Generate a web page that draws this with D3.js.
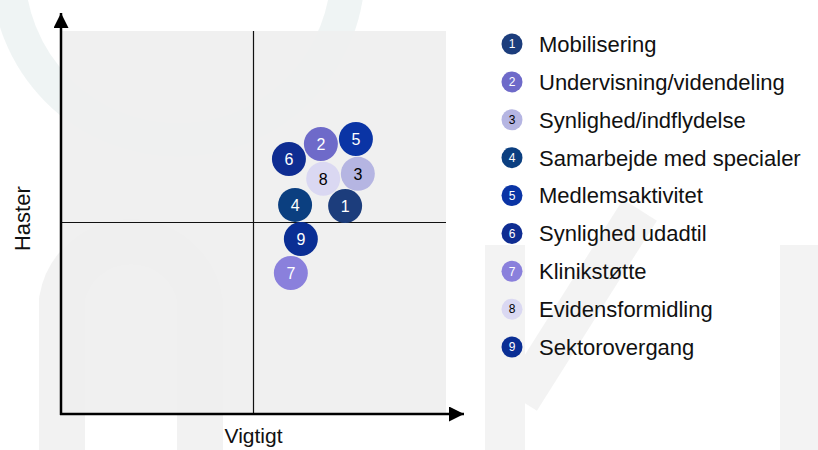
<!DOCTYPE html>
<html>
<head>
<meta charset="utf-8">
<script src="https://cdn.jsdelivr.net/npm/d3@7"></script>
<style>
  body { margin: 0; background: #fff; }
  svg { display: block; font-family: "Liberation Sans", Arial, sans-serif; }
</style>
</head>
<body>
<div id="chart"></div>
<script>
// Priorities: number, name, position on the two axes and fill colour
var ids = [1, 2, 3, 4, 5, 6, 7, 8, 9];
var names = ["Mobilisering", "Undervisning/videndeling", "Synlighed/indflydelse",
             "Samarbejde med specialer", "Medlemsaktivitet", "Synlighed udadtil",
             "Klinikstøtte", "Evidensformidling", "Sektorovergang"];
var vigtigt = [7.38, 6.75, 7.71, 6.08, 7.66, 5.92, 5.97, 6.81, 6.23];
var haster  = [5.43, 7.05, 6.27, 5.46, 7.18, 6.66, 3.68, 6.14, 4.57];
var fills = ["#1c3d7c", "#6e6ac9", "#b5b5e2", "#0b3f80", "#0a34a5",
             "#0f2d92", "#8a80dc", "#dad8f2", "#0a2e94"];
var darkText = [3, 8]; // light bubbles get black numbers

var width = 818, height = 450;
var plot = {left: 61, right: 446, top: 31, bottom: 414};

var xScale = d3.scaleLinear().domain([0, 10]).range([plot.left, plot.right]),
    yScale = d3.scaleLinear().domain([0, 10]).range([plot.bottom, plot.top]);

var svg = d3.select("#chart").append("svg")
    .attr("width", width)
    .attr("height", height);

svg.append("defs").append("marker")
    .attr("id", "arrow")
    .attr("viewBox", "0 0 10 10")
    .attr("refX", 10).attr("refY", 5)
    .attr("markerWidth", 7).attr("markerHeight", 6)
    .attr("markerUnits", "strokeWidth")
    .attr("orient", "auto")
  .append("path")
    .attr("d", "M0,0L10,5L0,10Z")
    .attr("fill", "#000");

// faint watermark behind everything
var wm = svg.append("g").attr("class", "watermark").attr("fill", "none");
wm.append("circle")
    .attr("cx", 178).attr("cy", -30).attr("r", 170)
    .attr("stroke", "#e4ecec").attr("stroke-width", 34).attr("opacity", 0.6);
wm.append("path")
    .attr("d", "M62,450V300A70,70 0 0 1 200,300V450")
    .attr("stroke", "#ededed").attr("stroke-width", 46).attr("opacity", 0.7);
wm.append("path")
    .attr("d", "M505,450V245M520,400L640,210M800,450V245")
    .attr("stroke", "#eeeeee").attr("stroke-width", 40).attr("opacity", 0.7);

// quadrant background
svg.append("rect")
    .attr("x", plot.left)
    .attr("y", plot.top)
    .attr("width", plot.right - plot.left)
    .attr("height", plot.bottom - plot.top)
    .attr("fill", "#efefef")
    .attr("opacity", 0.93);

// quadrant dividers
svg.append("line")
    .attr("x1", xScale(5)).attr("x2", xScale(5))
    .attr("y1", plot.top).attr("y2", plot.bottom)
    .attr("stroke", "#111").attr("stroke-width", 1.2);
svg.append("line")
    .attr("x1", plot.left).attr("x2", plot.right)
    .attr("y1", yScale(5)).attr("y2", yScale(5))
    .attr("stroke", "#111").attr("stroke-width", 1.2);

// axes with arrow heads
svg.append("line")
    .attr("x1", plot.left).attr("x2", plot.left)
    .attr("y1", plot.bottom + 1).attr("y2", 13)
    .attr("stroke", "#000").attr("stroke-width", 2.5)
    .attr("marker-end", "url(#arrow)");
svg.append("line")
    .attr("x1", plot.left - 1).attr("x2", 464)
    .attr("y1", plot.bottom).attr("y2", plot.bottom)
    .attr("stroke", "#000").attr("stroke-width", 2.5)
    .attr("marker-end", "url(#arrow)");

svg.append("text")
    .attr("x", xScale(5))
    .attr("y", 443)
    .attr("text-anchor", "middle")
    .attr("font-size", 21)
    .attr("fill", "#111")
    .text("Vigtigt");

svg.append("text")
    .attr("transform", "translate(30," + yScale(5.1) + ") rotate(-90)")
    .attr("text-anchor", "middle")
    .attr("font-size", 22)
    .attr("fill", "#111")
    .text("Haster");

var data = ids.map(function(id, i) {
  return {id: id, name: names[i], x: vigtigt[i], y: haster[i], fill: fills[i]};
});

// bubbles
var bubble = svg.append("g")
    .attr("class", "bubbles")
  .selectAll("g")
    .data(data)
  .enter().append("g")
    .attr("transform", function(d) { return "translate(" + xScale(d.x) + "," + yScale(d.y) + ")"; });

bubble.append("circle")
    .attr("r", 17)
    .attr("fill", function(d) { return d.fill; });

bubble.append("text")
    .attr("text-anchor", "middle")
    .attr("dy", "0.36em")
    .attr("font-size", 16)
    .attr("fill", function(d) { return darkText.indexOf(d.id) >= 0 ? "#000" : "#fff"; })
    .text(function(d) { return d.id; });

// legend
var legendY = d3.scalePoint()
    .domain(ids)
    .range([44, 347]);

var legend = svg.append("g")
    .attr("class", "legend")
  .selectAll("g")
    .data(data)
  .enter().append("g")
    .attr("transform", function(d) { return "translate(512," + legendY(d.id) + ")"; });

legend.append("circle")
    .attr("r", 10.5)
    .attr("fill", function(d) { return d.fill; });

legend.append("text")
    .attr("text-anchor", "middle")
    .attr("dy", "0.36em")
    .attr("font-size", 12)
    .attr("fill", function(d) { return darkText.indexOf(d.id) >= 0 ? "#000" : "#fff"; })
    .text(function(d) { return d.id; });

legend.append("text")
    .attr("x", 27)
    .attr("dy", "0.36em")
    .attr("font-size", 22)
    .attr("fill", "#111")
    .text(function(d) { return d.name; });
</script>
</body>
</html>
